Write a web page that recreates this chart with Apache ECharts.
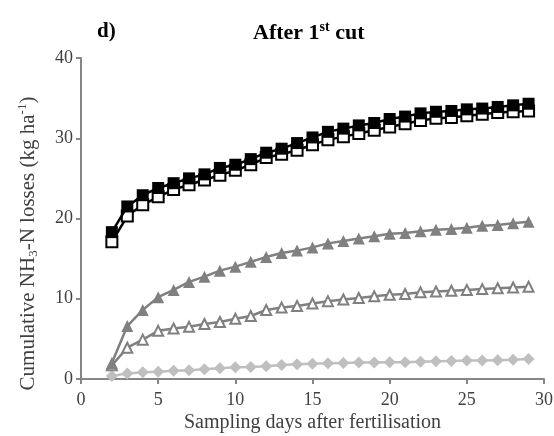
<!DOCTYPE html>
<html>
<head>
<meta charset="utf-8">
<script src="https://cdn.jsdelivr.net/npm/echarts@6/dist/echarts.min.js"></script>
<style>
  html, body { margin: 0; padding: 0; background: #fff; }
  #chart { width: 554px; height: 436px; }
</style>
</head>
<body>
<div id="chart"></div>
<script>
const days = [2, 3, 4, 5, 6, 7, 8, 9, 10, 11, 12, 13, 14, 15, 16, 17, 18, 19, 20, 21, 22, 23, 24, 25, 26, 27, 28, 29];
const filledSquares = [18.3, 21.5, 22.9, 23.8, 24.4, 25.0, 25.5, 26.3, 26.7, 27.4, 28.2, 28.7, 29.4, 30.1, 30.8, 31.2, 31.6, 31.9, 32.4, 32.7, 33.1, 33.3, 33.4, 33.6, 33.7, 33.9, 34.1, 34.3];
const openSquares = [17.1, 20.3, 21.7, 22.7, 23.6, 24.2, 24.8, 25.4, 26.0, 26.7, 27.6, 28.0, 28.5, 29.2, 29.8, 30.2, 30.6, 31.0, 31.4, 31.8, 32.2, 32.5, 32.6, 32.8, 33.0, 33.2, 33.3, 33.4];
const filledTriangles = [2.0, 6.6, 8.6, 10.2, 11.1, 12.1, 12.75, 13.5, 14.0, 14.6, 15.2, 15.7, 16.0, 16.4, 16.9, 17.2, 17.5, 17.8, 18.1, 18.2, 18.4, 18.6, 18.7, 18.85, 19.1, 19.2, 19.4, 19.6];
const openTriangles = [1.7, 3.9, 4.9, 6.0, 6.3, 6.5, 6.85, 7.1, 7.5, 7.85, 8.6, 8.9, 9.1, 9.4, 9.7, 9.9, 10.1, 10.3, 10.5, 10.6, 10.8, 10.9, 11.0, 11.1, 11.2, 11.3, 11.4, 11.5];
const diamonds = [0.37, 0.7, 0.83, 0.9, 1.03, 1.1, 1.2, 1.33, 1.45, 1.5, 1.6, 1.75, 1.85, 1.9, 1.95, 2.0, 2.05, 2.05, 2.1, 2.1, 2.15, 2.2, 2.25, 2.3, 2.3, 2.35, 2.4, 2.5];
const xTicks = [0, 5, 10, 15, 20, 25, 30];
const yTicks = [0, 10, 20, 30, 40];

const font = "'Liberation Serif', 'Times New Roman', serif";
const axisColor = "#868686";
const textColor = "#404040";

const pairs = (vals) => days.map((d, i) => [d, vals[i]]);

function line(name, vals, symbol, color, fill, size, z) {
  return {
    name,
    type: "line",
    data: pairs(vals),
    symbol,
    symbolSize: size,
    z,
    lineStyle: { color, width: 2.5 },
    itemStyle: { color: fill, borderColor: color, borderWidth: fill === "#fff" ? 2 : 0 },
    emphasis: { disabled: true }
  };
}

const chart = echarts.init(document.getElementById("chart"));
chart.setOption({
  animation: false,
  textStyle: { fontFamily: font },
  title: [
    {
      text: "d)",
      left: 92,
      top: 16,
      textStyle: { fontFamily: font, fontSize: 21, fontWeight: "bold", color: "#000" }
    },
    {
      text: "After 1{sup|st} cut",
      left: 248,
      top: 15,
      textStyle: {
        fontFamily: font, fontSize: 22, fontWeight: "bold", color: "#000", lineHeight: 26,
        rich: {
          sup: { fontFamily: font, fontSize: 14, fontWeight: "bold", color: "#000", lineHeight: 14, verticalAlign: "top" }
        }
      }
    }
  ],
  grid: { left: 81, right: 10, top: 58, bottom: 57, outerBoundsMode: "none" },
  xAxis: {
    type: "value",
    min: xTicks[0],
    max: xTicks[xTicks.length - 1],
    interval: 5,
    name: "Sampling days after fertilisation",
    nameLocation: "middle",
    nameGap: 34,
    nameMoveOverlap: false,
    nameTextStyle: { fontFamily: font, fontSize: 20, color: textColor },
    axisLine: { lineStyle: { color: axisColor, width: 2 } },
    axisTick: { show: true, length: 5, lineStyle: { color: axisColor, width: 2 } },
    axisLabel: { fontFamily: font, fontSize: 18, color: textColor, margin: 12 },
    splitLine: { show: false }
  },
  yAxis: {
    type: "value",
    min: yTicks[0],
    max: yTicks[yTicks.length - 1],
    interval: 10,
    name: "Cumulative NH{sub|3}-N losses (kg ha{sup|-1})",
    nameLocation: "middle",
    nameGap: 41,
    nameMoveOverlap: false,
    nameTextStyle: {
      fontFamily: font, fontSize: 21, color: textColor, lineHeight: 24,
      padding: [0, 50, 0, 0],
      rich: {
        sub: { fontFamily: font, fontSize: 13, color: textColor, lineHeight: 12, verticalAlign: "bottom" },
        sup: { fontFamily: font, fontSize: 13, color: textColor, lineHeight: 12, verticalAlign: "top" }
      }
    },
    axisLine: { show: true, lineStyle: { color: axisColor, width: 2 } },
    axisTick: { show: true, length: 5, lineStyle: { color: axisColor, width: 2 } },
    axisLabel: { fontFamily: font, fontSize: 18, color: textColor, margin: 8 },
    splitLine: { show: false }
  },
  series: [
    line("diamond", diamonds, "diamond", "#bfbfbf", "#bfbfbf", 12, 2),
    line("open triangle", openTriangles, "triangle", "#808080", "#fff", 10, 3),
    line("filled triangle", filledTriangles, "triangle", "#808080", "#808080", 12, 4),
    line("open square", openSquares, "rect", "#000", "#fff", 11, 5),
    line("filled square", filledSquares, "rect", "#000", "#000", 12, 6)
  ]
});
window.addEventListener("resize", () => chart.resize());
</script>
</body>
</html>
